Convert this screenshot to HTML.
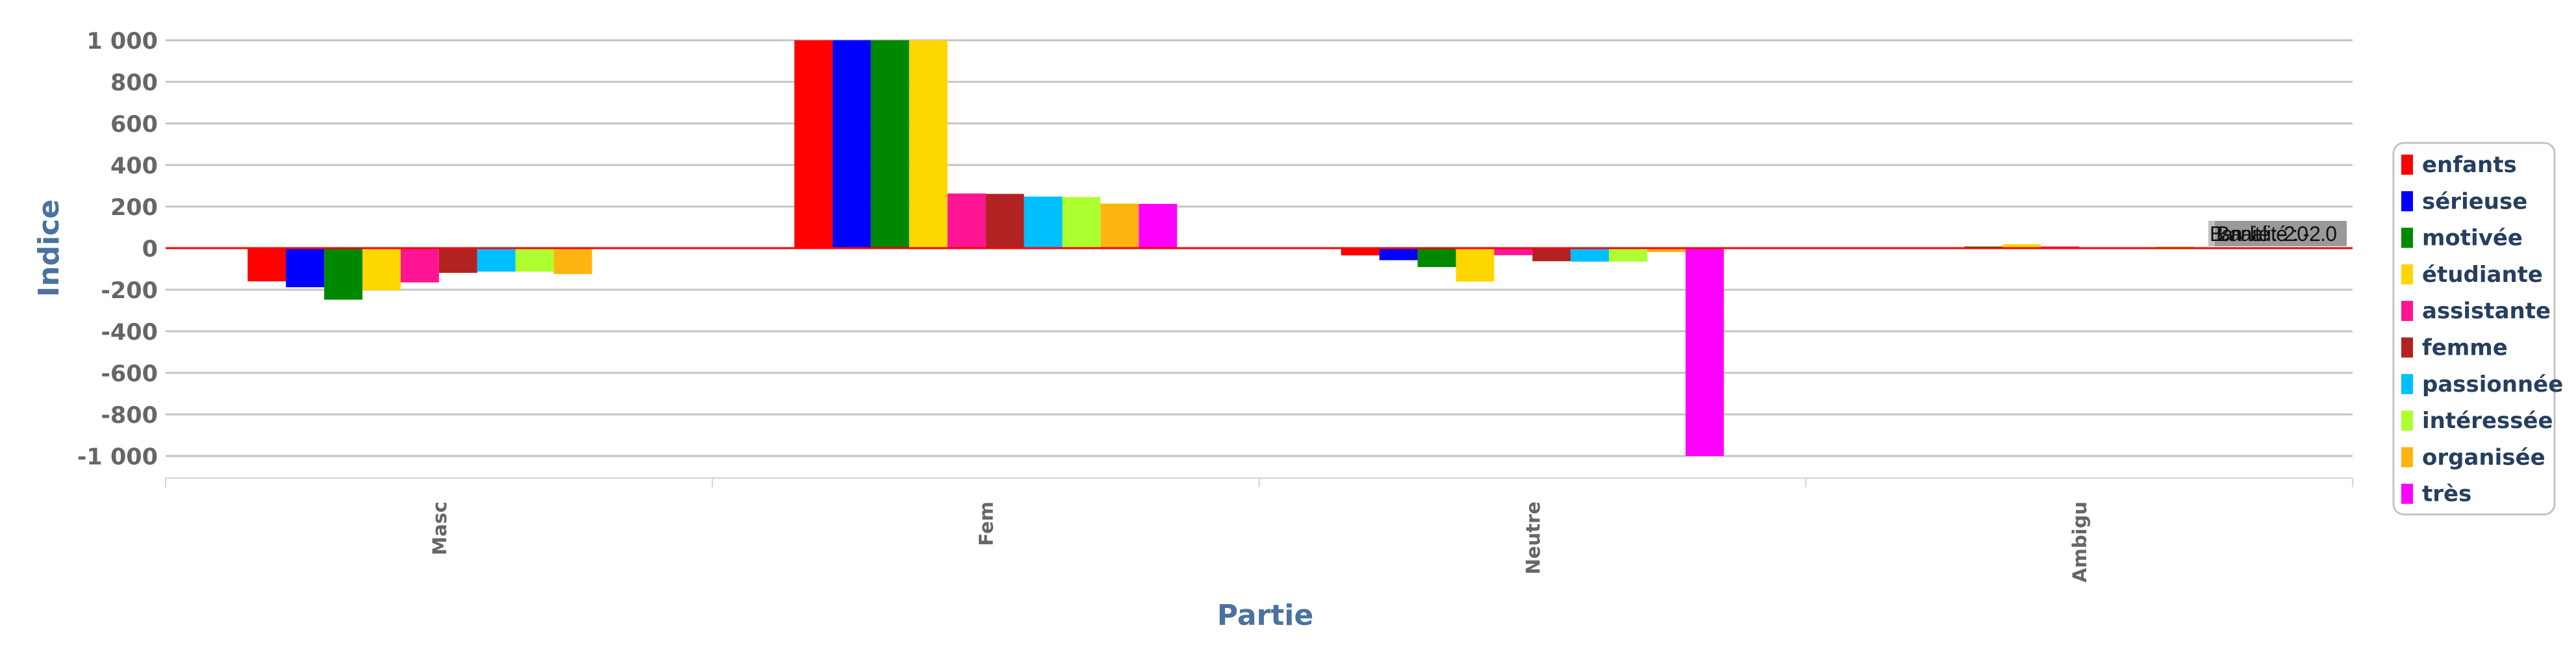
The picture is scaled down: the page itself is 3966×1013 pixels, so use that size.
<!DOCTYPE html>
<html><head><meta charset="utf-8"><style>
body{margin:0;background:#fff}
svg{display:block;font-family:"DejaVu Sans","Liberation Sans",sans-serif}
</style></head><body>
<svg id="chart" width="3966" height="1013" viewBox="0 0 3966 1013" xmlns="http://www.w3.org/2000/svg">
<g id="grid"></g>
<g id="yticks"></g>
<g id="bars"></g>
<line x1="255" x2="3622" y1="382" y2="382" stroke="#ff0000" stroke-width="3"/>
<g id="xaxis"></g>
<text transform="translate(90,382) rotate(-90)" text-anchor="middle" font-size="44" font-weight="bold" fill="#4a72a0">Indice</text>
<text x="1948" y="962" text-anchor="middle" font-size="44" font-weight="bold" fill="#4a72a0">Partie</text>
<g>
<rect x="3400" y="340" width="213" height="39" fill="#c0c0c0"/>
<rect x="3410" y="340" width="203" height="39" fill="#999"/>
<text x="3402" y="371" font-size="32" fill="#111" textLength="152" font-family="Liberation Sans, sans-serif">Banalité : -2.0</text>
<text x="3412" y="371" font-size="32" fill="#111" textLength="186" font-family="Liberation Sans, sans-serif">Banalité : -2.0</text>
</g>
<g id="legend">
<rect x="3685" y="220" width="248" height="572" rx="16" fill="#fff" stroke="#c4c4c4" stroke-width="3"/>
</g>
</svg>
<script>
const categories = ["Masc","Fem","Neutre","Ambigu"];
const seriesNames = ["enfants","sérieuse","motivée","étudiante","assistante","femme","passionnée","intéressée","organisée","très"];
const seriesColors = ["#ff0000","#0000ff","#008800","#ffd700","#ff1493","#b22222","#00bfff","#adff2f","#ffb511","#ff00ff"];
const enfants    = [-160, 1000, -35, 0];
const serieuse   = [-188, 1000, -58, 2];
const motivee    = [-248, 1000, -91, 8];
const etudiante  = [-202, 1000, -161, 19];
const assistante = [-165, 263, -34, 8];
const femme      = [-119, 261, -63, 0];
const passionnee = [-113, 248, -65, 2];
const interessee = [-113, 246, -65, 8];
const organisee  = [-125, 214, -19, 0];
const tres       = [0, 213, -1000, 0];
const seriesValues = [enfants,serieuse,motivee,etudiante,assistante,femme,passionnee,interessee,organisee,tres];
const yTicks = [1000,800,600,400,200,0,-200,-400,-600,-800,-1000];
const yTickLabels = ["1 000","800","600","400","200","0","-200","-400","-600","-800","-1 000"];

const NS="http://www.w3.org/2000/svg";
const L=255,R=3622,Y0=382,PXU=0.32,AX=736;
const y=v=>Y0-v*PXU;
const cw=(R-L)/categories.length;
const bw=cw*0.7/seriesNames.length;
function mk(tag,attrs,parent){const e=document.createElementNS(NS,tag);for(const k in attrs)e.setAttribute(k,attrs[k]);parent.appendChild(e);return e;}
const grid=document.getElementById('grid'),yt=document.getElementById('yticks'),bars=document.getElementById('bars'),xa=document.getElementById('xaxis'),lg=document.getElementById('legend');
yTicks.forEach((t,i)=>{
  const ln=mk('line',{x1:L,x2:R,y1:y(t),y2:y(t),stroke:'#c4c4c4','stroke-width':3},grid);
  
  
  const tx=mk('text',{x:243,y:y(t)+13,'text-anchor':'end','font-size':35,'font-weight':'bold',fill:'#666'},yt);
  tx.textContent=yTickLabels[i];
  
  
});
categories.forEach((c,ci)=>{
  const gx=L+ci*cw+cw*0.15;
  seriesValues.forEach((vals,si)=>{
    const v=vals[ci]; if(v===0)return;
    const top=Math.min(y(v),Y0),h=Math.abs(y(v)-Y0);
    const r=mk('rect',{x:gx+si*bw,y:top,width:bw,height:h,fill:seriesColors[si]},bars);
    
    
  });
  const lx=L+ci*cw+cw/2;
  const t=mk('text',{transform:`translate(${lx+11},772) rotate(-90)`,'text-anchor':'end','font-size':29,'font-weight':'bold',fill:'#666'},xa);
  t.textContent=c;
  
  
});
mk('line',{x1:L,x2:R,y1:AX,y2:AX,stroke:'#c8d6e5','stroke-width':2},xa);
for(let i=0;i<=categories.length;i++){
  const tk=mk('line',{x1:L+i*cw,x2:L+i*cw,y1:AX,y2:750,stroke:'#c8d6e5','stroke-width':2},xa);
  
  
}
seriesNames.forEach((n,i)=>{
  const yy=238+i*56.3;
  const g=mk('g',{},lg);
  
  
  mk('rect',{x:3697,y:yy,width:18,height:31,fill:seriesColors[i]},g);
  const t=mk('text',{x:3729,y:yy+27,'font-size':34,'font-weight':'bold',fill:'#253f5f'},g);
  t.textContent=n;
});
</script>
</body></html>
